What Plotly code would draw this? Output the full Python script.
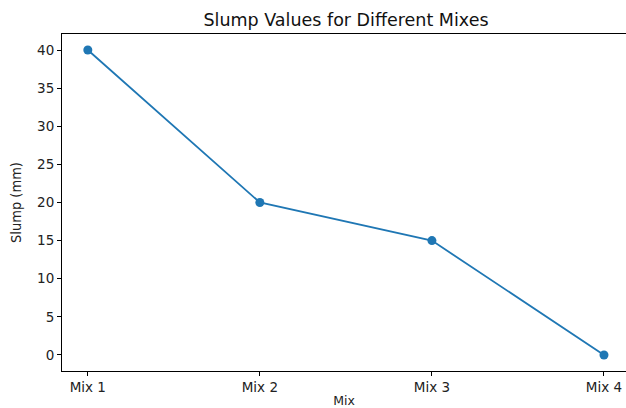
import plotly.graph_objects as go

mixes = ["Mix 1", "Mix 2", "Mix 3", "Mix 4"]
slump_mm = [40, 20, 15, 0]
y_ticks = [0, 5, 10, 15, 20, 25, 30, 35, 40]

fig = go.Figure()
fig.add_trace(go.Scatter(
    x=list(range(len(mixes))), y=slump_mm,
    mode="lines+markers",
    line=dict(color="#1f77b4", width=1.8),
    marker=dict(color="#1f77b4", size=9),
    showlegend=False,
    cliponaxis=False,
))

font_family = "DejaVu Sans"
fig.update_layout(
    width=626, height=408,
    margin=dict(l=62, r=0, t=34, b=37, autoexpand=False),
    paper_bgcolor="white", plot_bgcolor="white",
    font=dict(family=font_family, color="#222", size=13),
    title=dict(text="Slump Values for Different Mixes", x=346/626, xanchor="center",
               y=1-20/408, yref="container", yanchor="middle",
               font=dict(size=17.5, color="#111", family=font_family)),
)
fig.update_xaxes(
    range=[-0.15, 3.128], automargin=False,
    tickmode="array", tickvals=list(range(len(mixes))), ticktext=mixes,
    showline=True, linecolor="black", linewidth=1, mirror=True,
    ticks="outside", ticklen=4, tickcolor="black",
    showgrid=False, zeroline=False,
    tickfont=dict(size=13.5),
    title=dict(text="Mix", standoff=4, font=dict(size=12.5)),
)
fig.update_yaxes(
    range=[-2.1, 42.1], automargin=False,
    tickmode="array", tickvals=y_ticks,
    showline=True, linecolor="black", linewidth=1, mirror=False,
    ticks="outside", ticklen=4, tickcolor="black",
    showgrid=False, zeroline=False,
    tickfont=dict(size=13.5),
    title=dict(text="Slump (mm)", standoff=12, font=dict(size=14.5, family="DejaVu Sans Condensed, Liberation Sans Narrow, DejaVu Sans")),
)

fig.write_html("out.html", config={"displayModeBar": False},
               post_script="document.body.style.margin='0';document.body.style.overflow='hidden';")
